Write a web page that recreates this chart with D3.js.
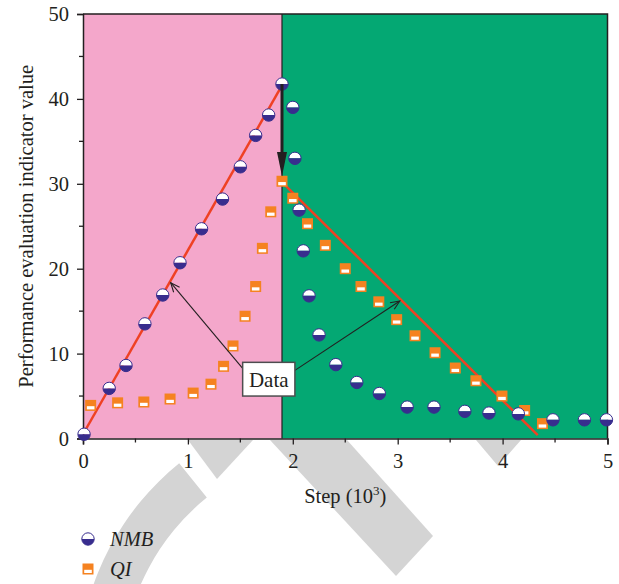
<!DOCTYPE html>
<html>
<head>
<meta charset="utf-8">
<script src="https://cdn.jsdelivr.net/npm/d3@7"></script>
<style>
    body { margin: 0; background: #fff; }
    text { font-family: 'Liberation Serif', 'Times New Roman', serif; fill: #231f20; }
</style>
</head>
<body>
<div id="chart"></div>
<script>
// step values are in 10^3
const nmbStep = [0.01, 0.25, 0.41, 0.59, 0.76, 0.925, 1.13, 1.33, 1.50, 1.646, 1.77, 1.897, 2.00, 2.02, 2.06, 2.10, 2.155, 2.25, 2.41, 2.61, 2.825, 3.09, 3.346, 3.64, 3.87, 4.15, 4.48, 4.78, 4.99];
const nmbValue = [0.5, 5.9, 8.6, 13.5, 16.9, 20.7, 24.7, 28.2, 32.0, 35.7, 38.1, 41.75, 39.0, 33.0, 26.9, 22.1, 16.8, 12.2, 8.7, 6.6, 5.3, 3.7, 3.7, 3.2, 3.0, 2.9, 2.2, 2.2, 2.2];
const qiStep = [0.073, 0.33, 0.58, 0.83, 1.05, 1.22, 1.34, 1.43, 1.545, 1.646, 1.71, 1.79, 1.897, 2.0, 2.14, 2.31, 2.50, 2.65, 2.82, 2.99, 3.165, 3.356, 3.549, 3.746, 3.994, 4.21, 4.38];
const qiValue = [3.9, 4.2, 4.3, 4.65, 5.35, 6.4, 8.5, 10.9, 14.4, 17.9, 22.4, 26.7, 30.3, 28.3, 25.3, 22.75, 20.0, 17.9, 16.1, 14.0, 12.1, 10.1, 8.3, 6.8, 5.0, 3.3, 1.75];
// red trend lines
const riseLine = [[0, 0.5], [1.897, 41.6]];
const fallLine = [[1.897, 30.2], [4.335, 0.4]];
// background regions
const regions = [
    {from: 0, to: 1.897, color: '#f4a7cb'},
    {from: 1.897, to: 5, color: '#04a873'}
];
const xTicks = [0, 1, 2, 3, 4, 5];
const yTicks = [0, 10, 20, 30, 40, 50];
// "Data" callout: box corners and arrow tips in data units
const calloutBox = {x0: 1.522, x1: 2.02, y0: 8.97, y1: 5.0};
const calloutTips = [[0.836, 18.35], [3.02, 16.2]];

const width = 619, height = 584;
const svg = d3.select('#chart')
    .append('svg')
    .attr('width', width)
    .attr('height', height);

const x = d3.scaleLinear().domain([0, 5]).range([83, 607.5]);
const y = d3.scaleLinear().domain([0, 50]).range([438.5, 14]);

// watermark behind the figure
const wm = svg.append('g').attr('fill', '#d4d4d4');
wm.append('path')
    .attr('transform', 'translate(350,675)')
    .attr('d', d3.arc()({innerRadius: 228, outerRadius: 272, startAngle: -2.3, endAngle: -0.679}));
wm.append('path').attr('d', 'M188,440 L217,479 L253,440 Z');
wm.append('path').attr('d', 'M270,440 L396,576 L433,536 L347,440 Z');
wm.append('path').attr('d', 'M476,440 L498,466 L521,440 Z');

// coloured regions
svg.append('g')
    .selectAll('rect')
    .data(regions)
    .join('rect')
    .attr('x', d => x(d.from))
    .attr('width', d => x(d.to) - x(d.from))
    .attr('y', y(50))
    .attr('height', y(0) - y(50))
    .attr('fill', d => d.color);

svg.append('line')
    .attr('x1', x(1.897)).attr('x2', x(1.897))
    .attr('y1', y(50)).attr('y2', y(0))
    .attr('stroke', '#231f20')
    .attr('stroke-width', 1.2);

// axes
const axisColor = '#231f20';
const xAxis = svg.append('g')
    .attr('transform', `translate(0,${y(0)})`)
    .call(d3.axisBottom(x).tickValues(xTicks).tickFormat(d3.format('d')).tickSize(6).tickPadding(9));
const yAxis = svg.append('g')
    .attr('transform', `translate(${x(0)},0)`)
    .call(d3.axisLeft(y).tickValues(yTicks).tickSize(6).tickPadding(8));
[xAxis, yAxis].forEach(a => {
    a.select('.domain').attr('stroke', axisColor).attr('stroke-width', 1.5);
    a.selectAll('.tick line').attr('stroke', axisColor).attr('stroke-width', 1.3);
    a.selectAll('.tick text')
        .style('font-family', "'Liberation Serif', serif")
        .style('font-size', '20.5px')
        .attr('fill', axisColor);
});
// minor ticks
svg.append('g')
    .selectAll('line')
    .data(d3.range(0.5, 5, 1))
    .join('line')
    .attr('x1', d => x(d)).attr('x2', d => x(d))
    .attr('y1', y(0)).attr('y2', y(0) + 4)
    .attr('stroke', axisColor).attr('stroke-width', 1.3);
svg.append('g')
    .selectAll('line')
    .data(d3.range(5, 50, 10))
    .join('line')
    .attr('x1', x(0) - 4).attr('x2', x(0))
    .attr('y1', d => y(d)).attr('y2', d => y(d))
    .attr('stroke', axisColor).attr('stroke-width', 1.3);
// top and right frame
svg.append('path')
    .attr('d', `M${x(0)},${y(50)} H${x(5)} V${y(0)}`)
    .attr('fill', 'none')
    .attr('stroke', axisColor)
    .attr('stroke-width', 1.5);

// axis titles
svg.append('text')
    .attr('x', (x(0) + x(5)) / 2)
    .attr('y', 503)
    .attr('text-anchor', 'middle')
    .style('font-size', '20.5px')
    .html('Step (10<tspan dy="-8" font-size="13">3</tspan><tspan dy="8">)</tspan>');
svg.append('text')
    .attr('transform', `translate(33,${(y(0) + y(50)) / 2}) rotate(-90)`)
    .attr('text-anchor', 'middle')
    .style('font-size', '20.5px')
    .text('Performance evaluation indicator value');

// red lines
const line = d3.line().x(d => x(d[0])).y(d => y(d[1]));
svg.append('g')
    .selectAll('path')
    .data([riseLine, fallLine])
    .join('path')
    .attr('d', line)
    .attr('fill', 'none')
    .attr('stroke', '#ef4123')
    .attr('stroke-width', 2.5);

// marker drawers
const blue = '#382d8e', orange = '#f58220';
const r = 6.2;
function drawCircle(g) {
    g.append('path')
        .attr('d', `M${-r},0 A${r},${r} 0 0 1 ${r},0 Z`)
        .attr('fill', '#fff');
    g.append('path')
        .attr('d', `M${-r},0 A${r},${r} 0 0 0 ${r},0 Z`)
        .attr('fill', blue);
    g.append('circle')
        .attr('r', r)
        .attr('fill', 'none')
        .attr('stroke', blue)
        .attr('stroke-width', 1);
}
function drawSquare(g) {
    g.append('rect')
        .attr('x', -5.5).attr('y', -5.5)
        .attr('width', 11).attr('height', 11)
        .attr('fill', orange);
    g.append('rect')
        .attr('x', -3.8).attr('y', 0.8)
        .attr('width', 7.6).attr('height', 3.2)
        .attr('fill', '#fff');
}

// QI markers
const qiData = qiStep.map((s, i) => ({step: s, value: qiValue[i]}));
svg.append('g')
    .selectAll('g')
    .data(qiData)
    .join('g')
    .attr('transform', d => `translate(${x(d.step)},${y(d.value)})`)
    .each(function() { drawSquare(d3.select(this)); });

// NMB markers
const nmbData = nmbStep.map((s, i) => ({step: s, value: nmbValue[i]}));
svg.append('g')
    .selectAll('g')
    .data(nmbData)
    .join('g')
    .attr('transform', d => `translate(${x(d.step)},${y(d.value)})`)
    .each(function() { drawCircle(d3.select(this)); });

// black drop arrow from NMB peak to QI peak
const dropX = x(1.897);
svg.append('line')
    .attr('x1', dropX).attr('x2', dropX)
    .attr('y1', y(41.75)).attr('y2', y(33.5))
    .attr('stroke', '#231f20')
    .attr('stroke-width', 3);
svg.append('path')
    .attr('d', `M${dropX - 5},${y(33.5) - 2} L${dropX + 5},${y(33.5) - 2} L${dropX},${y(30.9) + 0} Z`)
    .attr('fill', '#231f20');

// "Data" callout
const bx0 = x(calloutBox.x0), bx1 = x(calloutBox.x1);
const by0 = y(calloutBox.y0), by1 = y(calloutBox.y1);
const starts = [[bx0, by0 + 6], [bx1, by0 + 8]];
calloutTips.forEach((t, i) => {
    const tx = x(t[0]), ty = y(t[1]);
    const sx = starts[i][0], sy = starts[i][1];
    const ang = Math.atan2(ty - sy, tx - sx);
    const h = 10, spread = 0.4;
    svg.append('line')
        .attr('x1', sx).attr('y1', sy)
        .attr('x2', tx).attr('y2', ty)
        .attr('stroke', '#231f20')
        .attr('stroke-width', 1.1);
    svg.append('path')
        .attr('d', `M${tx - h * Math.cos(ang - spread)},${ty - h * Math.sin(ang - spread)} L${tx},${ty} L${tx - h * Math.cos(ang + spread)},${ty - h * Math.sin(ang + spread)}`)
        .attr('fill', 'none')
        .attr('stroke', '#231f20')
        .attr('stroke-width', 1.1);
});
svg.append('rect')
    .attr('x', bx0).attr('y', by0)
    .attr('width', bx1 - bx0).attr('height', by1 - by0)
    .attr('fill', '#fff')
    .attr('stroke', '#4d4d4f')
    .attr('stroke-width', 1.5);
svg.append('text')
    .attr('x', (bx0 + bx1) / 2)
    .attr('y', by1 - 9)
    .attr('text-anchor', 'middle')
    .style('font-size', '21px')
    .text('Data');

// legend
const legend = svg.append('g');
const nmbKey = legend.append('g').attr('transform', 'translate(88,539)');
drawCircle(nmbKey);
const qiKey = legend.append('g').attr('transform', 'translate(88,569)');
drawSquare(qiKey);
legend.append('text')
    .attr('x', 110).attr('y', 546)
    .style('font-size', '20.5px')
    .style('font-style', 'italic')
    .text('NMB');
legend.append('text')
    .attr('x', 110).attr('y', 576)
    .style('font-size', '20.5px')
    .style('font-style', 'italic')
    .text('QI');
</script>
</body>
</html>
